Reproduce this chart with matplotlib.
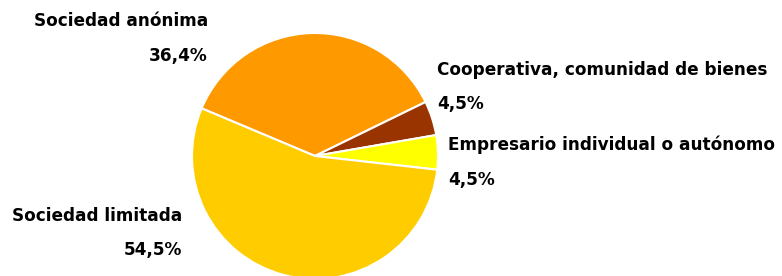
import matplotlib.pyplot as plt

categories = ['Sociedad anónima', 'Cooperativa, comunidad de bienes',
              'Empresario individual o autónomo', 'Sociedad limitada']
values = [36.4, 4.5, 4.5, 54.5]
colors = ['#FF9900', '#993300', '#FFFF00', '#FFCC00']

W, H = 782, 276

fig = plt.figure(figsize=(W / 100, H / 100), dpi=100)
ax = fig.add_axes([0, 0, 1, 1])

ax.pie(values, colors=colors, startangle=157.2, counterclock=False,
       center=(315, H - 156), radius=123,
       wedgeprops=dict(edgecolor='white', linewidth=1.5))

# pie() resets limits, so set them afterwards
ax.set_xlim(0, W)
ax.set_ylim(0, H)
ax.set_aspect('equal')
ax.axis('off')

# label positions in pixel coords (x, y of name, y of percent, alignment)
label_pos = [(208, 21, 56, 'right'),
             (437, 70, 104, 'left'),
             (448, 145, 180, 'left'),
             (182, 216, 250, 'right')]

font = dict(family='DejaVu Sans', fontweight='bold', fontsize=12.2, color='#000000')
for name, v, (x, y1, y2, ha) in zip(categories, values, label_pos):
    pct = f'{v:.1f}%'.replace('.', ',')
    ax.text(x, H - y1, name, ha=ha, va='center', **font)
    ax.text(x, H - y2, pct, ha=ha, va='center', **font)

fig.savefig('out.png', dpi=100)
